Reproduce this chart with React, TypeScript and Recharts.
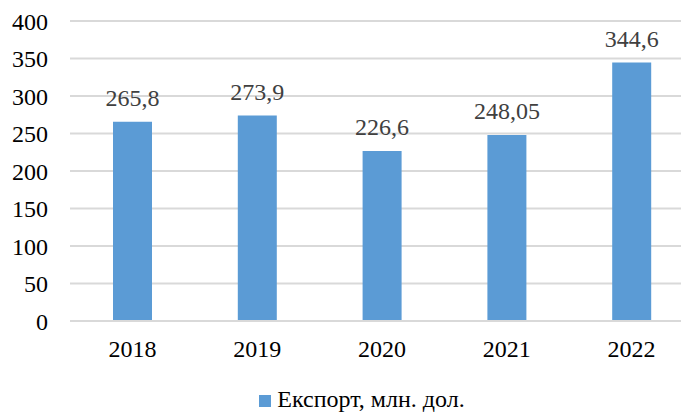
import { BarChart, Bar, XAxis, YAxis, CartesianGrid, Legend, LabelList } from "recharts"

const years = ["2018", "2019", "2020", "2021", "2022"]
const exportValues = [265.8, 273.9, 226.6, 248.05, 344.6]
const yTicks = [0, 50, 100, 150, 200, 250, 300, 350, 400]
const seriesName = "Експорт, млн. дол."

const data = years.map((year, i) => ({ year, value: exportValues[i] }))

const font = '"Liberation Serif", serif'

export default function App() {
  return (
    <div
      style={{
        position: "absolute",
        left: 0,
        top: 0,
        width: 681,
        height: 412,
        overflow: "hidden",
        background: "#fff",
        fontFamily: font,
      }}
    >
      <BarChart
        width={724}
        height={412}
        data={data}
        margin={{ top: 21, right: 30, left: 0, bottom: 0 }}
        barSize={39}
      >
        <CartesianGrid vertical={false} stroke="#d9d9d9" strokeWidth={2} />
        <XAxis
          dataKey="year"
          height={66}
          axisLine={{ stroke: "#d9d9d9", strokeWidth: 2 }}
          tickLine={false}
          tickMargin={13}
          tick={{ fill: "#000", fontSize: 24, fontFamily: font }}
        />
        <YAxis
          width={70}
          domain={[0, 400]}
          ticks={yTicks}
          axisLine={false}
          tickLine={false}
          tickMargin={16}
          tick={{ fill: "#000", fontSize: 24, fontFamily: font }}
        />
        <Legend
          verticalAlign="bottom"
          iconType="square"
          iconSize={12}
          wrapperStyle={{ left: 20, fontSize: 24, fontFamily: font, lineHeight: "25px" }}
          formatter={(v: string) => <span style={{ color: "#000", marginLeft: 2 }}>{v}</span>}
        />
        <Bar dataKey="value" name={seriesName} fill="#5b9bd5" isAnimationActive={false}>
          <LabelList
            dataKey="value"
            position="top"
            offset={16}
            fill="#404040"
            fontSize={24}
            fontFamily={font}
            formatter={(v: number) => String(v).replace(".", ",")}
          />
        </Bar>
      </BarChart>
    </div>
  )
}
